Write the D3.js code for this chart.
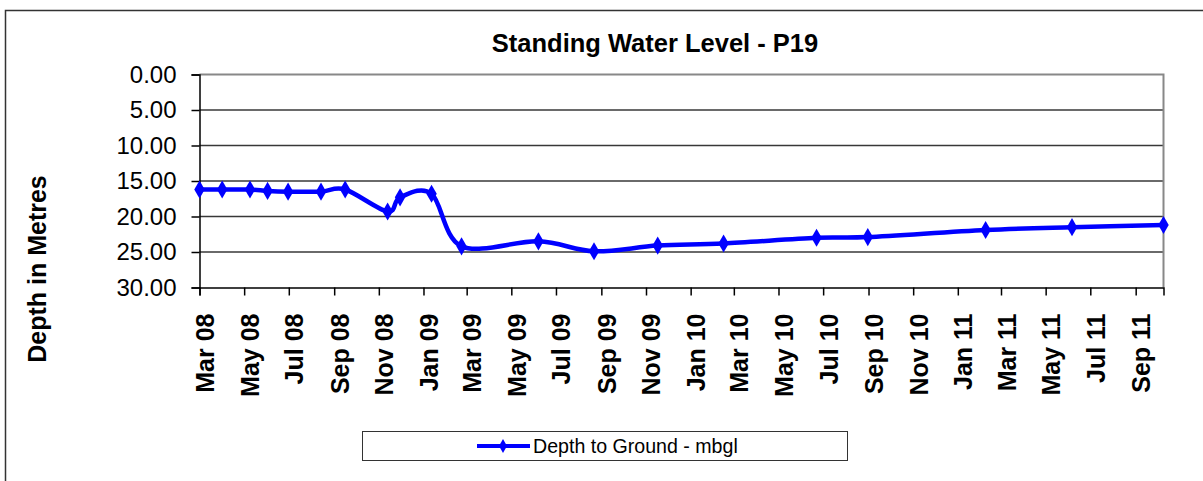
<!DOCTYPE html>
<html>
<head>
<meta charset="utf-8">
<script src="https://cdn.jsdelivr.net/npm/d3@7"></script>
<style>
  body { margin: 0; background: #fff; }
  svg { display: block; font-family: Arial, "Liberation Sans", sans-serif; }
</style>
</head>
<body>
<svg id="chart" width="1203" height="481"></svg>
<script>
// --- Data ---------------------------------------
const sampleDates = [
  "2008-03-01", "2008-04-01", "2008-05-09", "2008-06-02", "2008-06-30",
  "2008-08-14", "2008-09-16", "2008-11-13", "2008-11-30", "2009-01-12",
  "2009-02-22", "2009-06-07", "2009-08-22", "2009-11-17", "2010-02-15",
  "2010-06-22", "2010-08-31", "2011-02-08", "2011-06-06", "2011-10-09"
];
const depthValues = [
  16.2, 16.2, 16.2, 16.4, 16.5,
  16.5, 16.2, 19.3, 17.3, 16.8,
  24.2, 23.5, 24.9, 24.1, 23.8,
  23.0, 22.9, 21.9, 21.5, 21.2
];
const yTickValues = [0, 5, 10, 15, 20, 25, 30];
const seriesName = "Depth to Ground - mbgl";
const chartTitle = "Standing Water Level - P19";
const yTitle = "Depth in Metres";

const parseDate = d3.timeParse("%Y-%m-%d");
const data = sampleDates.map((d, i) => ({date: parseDate(d), depth: depthValues[i]}));

const svg = d3.select("#chart");

// plot area
const plot = {left: 199.5, right: 1163.5, top: 74.5, bottom: 287.5};

// outer chart frame (only top and left edges show)
svg.append("rect")
  .attr("x", 5.5).attr("y", 10.5)
  .attr("width", 1300).attr("height", 600)
  .attr("fill", "#fff")
  .attr("stroke", "#333")
  .attr("stroke-width", 1.5);

const x = d3.scaleTime()
  .domain(d3.extent(data, d => d.date))
  .range([plot.left, plot.right]);

// depth grows downward
const y = d3.scaleLinear()
  .domain([0, 30])
  .range([plot.top, plot.bottom]);

// --- Grid ------------------------------------
svg.append("g")
  .selectAll("line")
  .data(yTickValues.filter(v => v > 0 && v < 30))
  .enter().append("line")
  .attr("x1", plot.left).attr("x2", plot.right)
  .attr("y1", d => y(d)).attr("y2", d => y(d))
  .attr("stroke", "#383838")
  .attr("stroke-width", 1.6);

// grey plot border on top and right
svg.append("path")
  .attr("d", `M${plot.left},${plot.top}H${plot.right}V${plot.bottom}`)
  .attr("fill", "none")
  .attr("stroke", "#888")
  .attr("stroke-width", 2);

// --- Y axis ----------------------------------
const yAxis = svg.append("g")
  .attr("transform", `translate(${plot.left},0)`)
  .call(d3.axisLeft(y)
    .tickValues(yTickValues)
    .tickSize(8)
    .tickPadding(15)
    .tickFormat(d3.format(".2f")));

yAxis.select(".domain").attr("stroke", "#000").attr("stroke-width", 1.5);
yAxis.selectAll(".tick line").attr("stroke", "#000").attr("stroke-width", 1.5);
yAxis.selectAll("text")
  .attr("font-size", "24px")
  .attr("font-family", "Arial, 'Liberation Sans', sans-serif")
  .attr("fill", "#000");

// --- X axis ----------------------------------
const xAxis = svg.append("g")
  .attr("transform", `translate(0,${plot.bottom})`)
  .call(d3.axisBottom(x)
    .ticks(d3.timeMonth.every(2))
    .tickSize(8)
    .tickFormat(d3.timeFormat("%b %y")));

xAxis.select(".domain").attr("stroke", "#000").attr("stroke-width", 1.5);
xAxis.selectAll(".tick line").attr("stroke", "#000").attr("stroke-width", 1.5);
xAxis.selectAll("text")
  .attr("font-size", "25px")
  .attr("font-weight", "bold")
  .attr("font-family", "Arial, 'Liberation Sans', sans-serif")
  .attr("fill", "#000")
  .attr("text-anchor", "end")
  .attr("transform", "rotate(-90)")
  .attr("x", -26)
  .attr("y", 0)
  .attr("dy", "14px");

// --- Series ----------------------------------
const line = d3.line()
  .x(d => x(d.date))
  .y(d => y(d.depth))
  .curve(d3.curveCardinal.tension(0));

svg.append("path")
  .datum(data)
  .attr("d", line)
  .attr("fill", "none")
  .attr("stroke", "#0000ff")
  .attr("stroke-width", 4.5)
  .attr("stroke-linejoin", "round");

const diamond = d3.symbol().type(d3.symbolDiamond).size(95);

svg.append("g")
  .selectAll("path")
  .data(data)
  .enter().append("path")
  .attr("d", diamond)
  .attr("transform", d => `translate(${x(d.date)},${y(d.depth)})`)
  .attr("fill", "#0000ff");

// --- Titles ----------------------------------
svg.append("text")
  .attr("x", 655).attr("y", 52)
  .attr("text-anchor", "middle")
  .attr("font-size", "25.5px")
  .attr("font-weight", "bold")
  .text(chartTitle);

svg.append("text")
  .attr("transform", "translate(46,269) rotate(-90)")
  .attr("text-anchor", "middle")
  .attr("font-size", "25px")
  .attr("font-weight", "bold")
  .text(yTitle);

// --- Legend ----------------------------------
const legend = svg.append("g");
legend.append("rect")
  .attr("x", 362.5).attr("y", 431.5)
  .attr("width", 485).attr("height", 29)
  .attr("fill", "#fff")
  .attr("stroke", "#333")
  .attr("stroke-width", 1);

legend.append("line")
  .attr("x1", 477).attr("x2", 530)
  .attr("y1", 446).attr("y2", 446)
  .attr("stroke", "#0000ff")
  .attr("stroke-width", 4);

legend.append("path")
  .attr("d", d3.symbol().type(d3.symbolDiamond).size(55))
  .attr("transform", "translate(503,446)")
  .attr("fill", "#0000ff");

legend.append("text")
  .attr("x", 533).attr("y", 453)
  .attr("font-size", "19.6px")
  .text(seriesName);
</script>
</body>
</html>
